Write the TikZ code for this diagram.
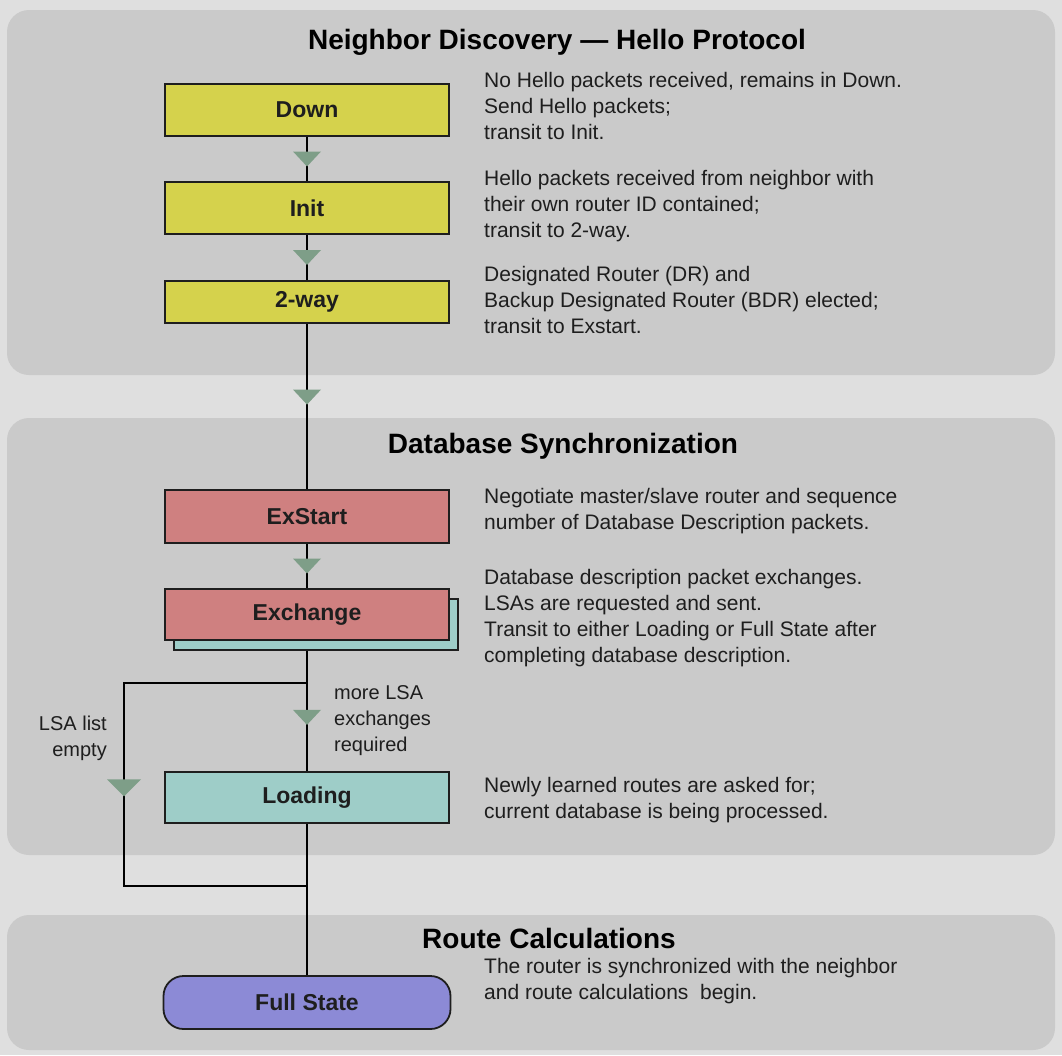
\documentclass[tikz,border=0pt]{standalone}
\usepackage{fontspec}
\setmainfont{Liberation Sans}
\usetikzlibrary{calc}
\definecolor{bgc}{HTML}{DFDFDF}
\definecolor{panelc}{HTML}{CACACA}
\definecolor{yel}{HTML}{D5D24C}
\definecolor{sal}{HTML}{CF8080}
\definecolor{teal2}{HTML}{9ECDC8}
\definecolor{lav}{HTML}{8C8AD6}
\definecolor{trig}{HTML}{7E9E88}
\definecolor{ink}{HTML}{1E1E1E}
\newcommand\arrowtri[3]{\fill[trifill] (#1) +(-#2,-#3) -- +(#2,-#3) -- +(0,#3) -- cycle;}
\begin{document}
\begin{tikzpicture}[x=1pt,y=-1pt,
  panel/.style={fill=panelc, rounded corners=22pt},
  state/.style={draw=ink, line width=1.8pt, minimum width=284pt, minimum height=52pt,
    inner sep=0pt, font=\fontsize{23}{27}\selectfont\bfseries, text=ink},
  title/.style={font=\fontsize{28}{32}\selectfont\bfseries, text=black, inner sep=0pt},
  desc/.style={font=\fontsize{21}{26}\selectfont, align=left, anchor=north west, inner sep=0pt, text=ink},
  side/.style={font=\fontsize{20}{26}\selectfont, inner sep=0pt, text=ink},
  conn/.style={draw=black, line width=1.3pt},
  trifill/.style={fill=trig}
]
\fill[bgc] (0,0) rectangle (1062,1055);
\useasboundingbox (0,0) rectangle (1062,1055);
% panels
\fill[panel] (7,10) rectangle (1055,375);
\fill[panel] (7,418) rectangle (1055,855);
\fill[panel] (7,915) rectangle (1055,1050);
% titles
\node[title] (t1) at (557,42) {Neighbor Discovery — Hello Protocol};
\node[title] (t2) at (563,446) {Database Synchronization};
\node[title] (t3) at (549,938) {Route Calculations};
% states
\node[state, fill=yel] (down) at (307,110) {Down};
\node[state, fill=yel] (init) at (307,208) {Init};
\node[state, fill=yel, minimum height=42pt] (twoway) at (307,302) {2-way};
\node[state, fill=sal, minimum height=53pt] (exstart) at (307,516.5) {ExStart};
\coordinate (br1) at (307,683);
\coordinate (lt) at (124,683);
\coordinate (lb) at (124,886);
\coordinate (br2) at (307,886);
\node[state, fill=teal2, minimum height=51pt] (loading) at (307,797.5) {Loading};
\node[state, fill=lav, rounded corners=20pt, minimum width=287pt, minimum height=53pt] (full) at (307,1002.5) {Full State};
% connectors
\draw[conn] (down) -- (init);
\draw[conn] (init) -- (twoway);
\draw[conn] (twoway) -- (exstart);
\draw[conn] (exstart.south) -- (307,600);
\draw[conn] (307,640) -- (loading.north);
\draw[conn] (loading.south) -- (full.north);
\draw[conn] (br1) -- (lt) -- (lb) -- (br2);
% exchange with shadow
\node[state, fill=teal2, minimum height=51pt] (exshadow) at (316,624.5) {};
\node[state, fill=sal, minimum height=51pt] (exchange) at (307,614.5) {Exchange};
% arrow triangles
\arrowtri{$(down.south)!0.5!(init.north)$}{14}{7.5}
\arrowtri{$(init.south)!0.5!(twoway.north)$}{14}{7.5}
\arrowtri{$(twoway.south)!0.443!(exstart.north)$}{14}{7.5}
\arrowtri{$(exstart.south)!0.5!(exchange.north)$}{14}{7.5}
\arrowtri{$(exshadow.south -| loading.north)!0.553!(loading.north)$}{14}{7.5}
\arrowtri{$(lt)!0.517!(lb)$}{17}{8.5}
% side labels
\node[side, align=left, anchor=north west] (more) at (334,685.5) {more LSA\\exchanges\\required};
\node[side, align=right, anchor=north east] (empty) at (107,715.5) {LSA list\\empty};
% descriptions
\node[desc] (d1) at (484,72) {No Hello packets received, remains in Down.\\Send Hello packets;\\transit to Init.};
\node[desc] (d2) at (484,170) {Hello packets received from neighbor with\\their own router ID contained;\\transit to 2-way.};
\node[desc] (d3) at (484,266) {Designated Router (DR) and\\Backup Designated Router (BDR) elected;\\transit to Exstart.};
\node[desc] (d4) at (484,488) {Negotiate master/slave router and sequence\\number of Database Description packets.};
\node[desc] (d5) at (484,569) {Database description packet exchanges.\\LSAs are requested and sent.\\Transit to either Loading or Full State after\\completing database description.};
\node[desc] (d6) at (484,777) {Newly learned routes are asked for;\\current database is being processed.};
\node[desc] (d7) at (484,958) {The router is synchronized with the neighbor\\and route calculations\ \ begin.};
\end{tikzpicture}
\end{document}
